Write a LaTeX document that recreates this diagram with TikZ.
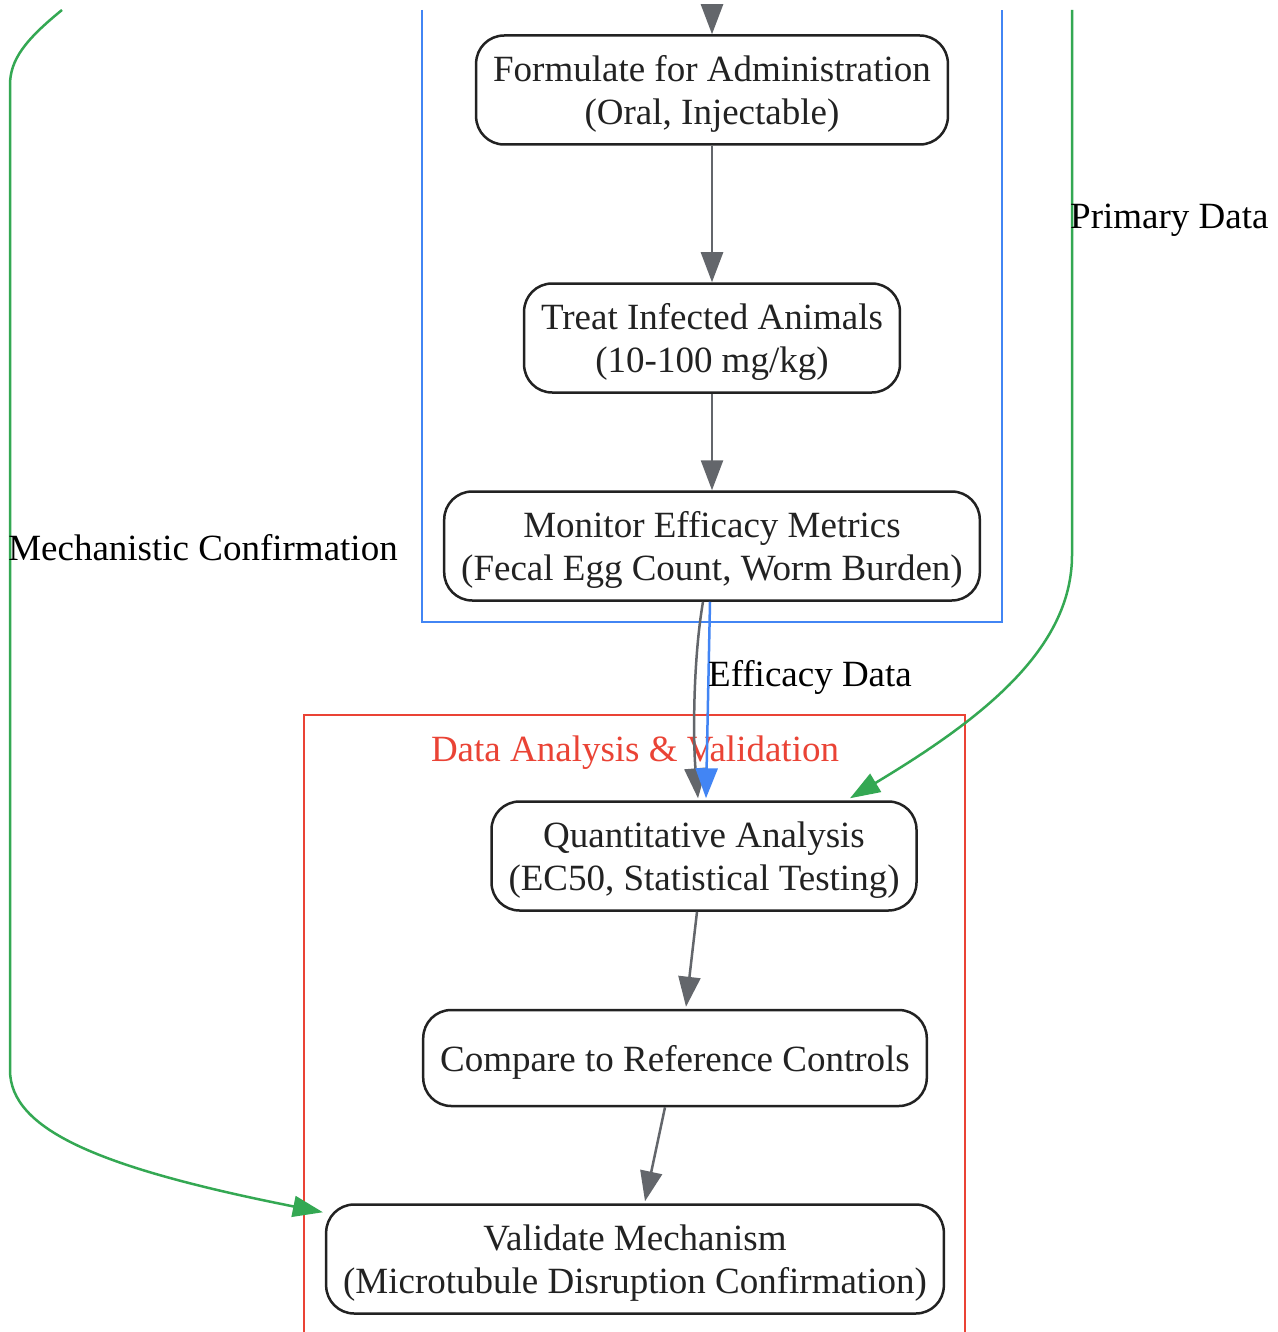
\documentclass[tikz,border=0pt]{standalone}
\usepackage{fontspec}
\setmainfont{Liberation Serif}
\usetikzlibrary{arrows.meta,calc}
\definecolor{nodeink}{HTML}{222222}
\definecolor{flowgray}{HTML}{63666B}
\definecolor{gblue}{HTML}{4285F4}
\definecolor{gred}{HTML}{EA4335}
\definecolor{ggreen}{HTML}{34A853}
\tikzset{
  stepbox/.style={draw=nodeink, line width=2.5pt, rounded corners=28pt, align=center,
    inner xsep=17pt, inner ysep=0pt, minimum height=109pt, text depth=-2pt, text=nodeink,
    font=\fontsize{37}{43}\selectfont},
  flowlabel/.style={text=black, inner sep=0pt, font=\fontsize{37}{43}\selectfont},
  grayflow/.style={draw=flowgray, line width=2.5pt, -{Triangle[length=30pt,width=22pt]}},
  blueflow/.style={draw=gblue, line width=2.5pt, -{Triangle[length=30pt,width=22pt]}},
  greenflow/.style={draw=ggreen, line width=2.5pt, -{Triangle[length=30pt,width=21pt]}},
  clusterframe/.style={line width=2pt}
}
\begin{document}
\begin{tikzpicture}[x=1pt,y=-1pt]
\useasboundingbox[fill=white] (0,0) rectangle (1277,1332);
% Drawing clusters
\draw[clusterframe, draw=gblue] (422,10) -- (422,622) -- (1002,622) -- (1002,10);
\draw[clusterframe, draw=gred] (304,1332) -- (304,715) -- (965,715) -- (965,1332);
\node[text=gred, inner sep=0pt, font=\fontsize{37}{43}\selectfont] (analysistitle) at (635,753) {Data Analysis \& Validation};
% Drawing steps
\node[stepbox] (formulate) at (712,90) {Formulate for Administration\\(Oral, Injectable)};
\node[stepbox] (treat) at (712,338) {Treat Infected Animals\\(10-100 mg/kg)};
\node[stepbox] (monitor) at (712,546) {Monitor Efficacy Metrics\\(Fecal Egg Count, Worm Burden)};
\node[stepbox] (quant) at (704,856) {Quantitative Analysis\\(EC50, Statistical Testing)};
\node[stepbox, minimum height=96pt] (compare) at (675,1058) {Compare to Reference Controls};
\node[stepbox] (validate) at (635,1259) {Validate Mechanism\\(Microtubule Disruption Confirmation)};
% Free ends at the top edge
\coordinate (topin) at (712,10);
\coordinate (mechstart) at (62,10);
\coordinate (primstart) at (1072,10);
% Drawing flows
\draw[grayflow] (topin) -- (formulate.north);
\draw[grayflow] (formulate.south) -- (treat.north);
\draw[grayflow] (treat.south) -- (monitor.north);
\draw[grayflow] ($(monitor.south)+(-9,0)$) .. controls (693,660) and (693,740) .. ($(quant.north)+(-6,-2)$);
\draw[blueflow] ($(monitor.south)+(-2,0)$) -- ($(quant.north)+(2,-2)$);
\draw[grayflow] ($(quant.south)+(-7,0)$) -- ($(compare.north)+(11,-2)$);
\draw[grayflow] ($(compare.south)+(-10,0)$) -- ($(validate.north)+(10,-2)$);
% Drawing feedback links
\draw[greenflow] (primstart) -- (1072,555) .. controls (1072,650) and (980,720) .. ($(quant.north)+(146,-2)$);
\draw[greenflow] (mechstart) .. controls (25,40) and (10,60) .. (10,85) -- (10,1070)
  .. controls (10,1130) and (100,1168) .. ($(validate.north west)+(-2,9)$);
% Drawing labels
\node[flowlabel, anchor=west] (primlabel) at (1070,220) {Primary Data};
\node[flowlabel] (mechlabel) at (203,548) {Mechanistic Confirmation};
\node[flowlabel] (efflabel) at (810,677) {Efficacy Data};
\end{tikzpicture}
\end{document}
